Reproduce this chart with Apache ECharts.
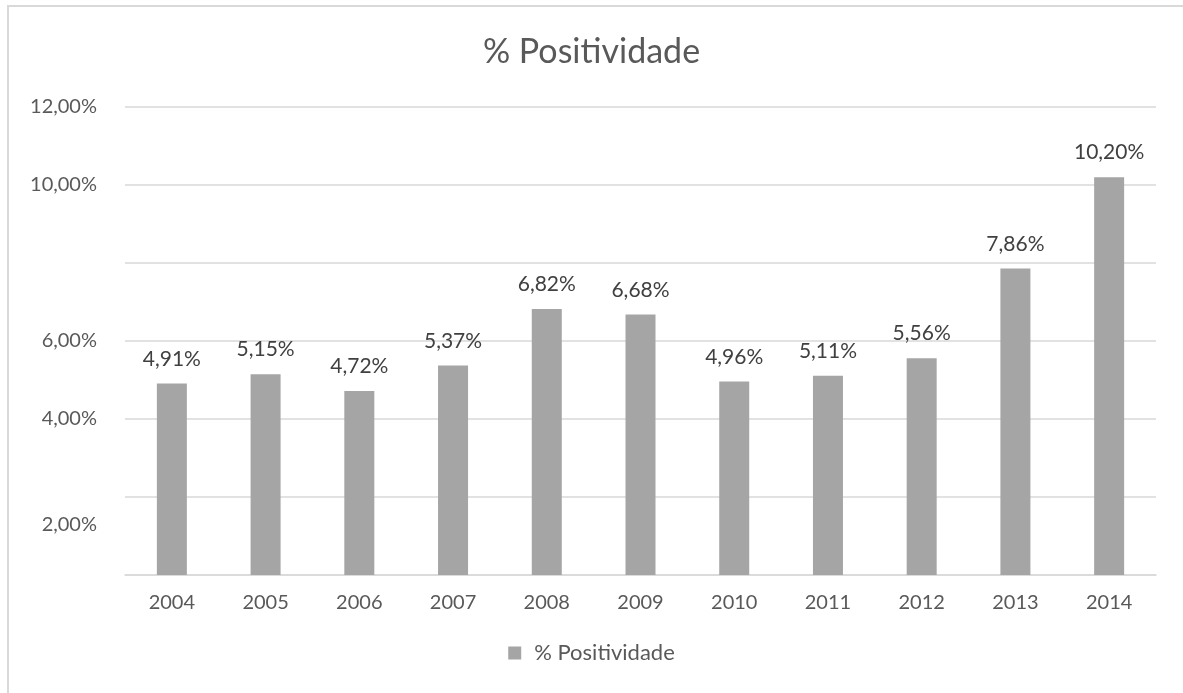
<!DOCTYPE html>
<html><head><meta charset="utf-8">
<script src="https://cdn.jsdelivr.net/npm/echarts@6/dist/echarts.min.js"></script>
<style>
html,body{margin:0;padding:0;background:#fff;}
#frame{position:absolute;left:7px;top:5px;width:1400px;height:900px;border-left:2px solid #d9d9d9;border-top:2px solid #d9d9d9;}
#chart{position:absolute;left:0;top:0;width:1183px;height:693px;}
</style></head>
<body>
<div id="frame"></div>
<div id="chart"></div>
<script>
const categories = ['2004','2005','2006','2007','2008','2009','2010','2011','2012','2013','2014'];
const positividade = [4.91, 5.15, 4.72, 5.37, 6.82, 6.68, 4.96, 5.11, 5.56, 7.86, 10.20];
const seriesName = '% Positividade';
const hiddenTicks = [0, 8];
const shiftedTicks = [2];

const fmt = v => v.toFixed(2).replace('.', ',') + '%';
const FONT = 'Lato';
const chart = echarts.init(document.getElementById('chart'));
chart.setOption({
  animation: false,
  backgroundColor: 'transparent',
  title: {
    text: seriesName, left: 'center', top: 30,
    textStyle: {fontFamily: FONT, fontSize: 34, fontWeight: 'normal', color: '#595959'}
  },
  legend: {
    bottom: 24, left: 'center', itemWidth: 13, itemHeight: 13, itemGap: 12,
    icon: 'rect',
    textStyle: {fontFamily: FONT, fontSize: 22, color: '#595959', padding: [0, 0, 0, 8]},
    data: [seriesName]
  },
  grid: {left: 125, right: 27, top: 107, bottom: 118, containLabel: false},
  xAxis: {
    type: 'category', data: categories,
    axisLine: {lineStyle: {color: '#d9d9d9', width: 1.5}},
    axisTick: {show: false},
    axisLabel: {fontFamily: FONT, fontSize: 20, color: '#595959', margin: 18}
  },
  yAxis: {
    type: 'value', min: 0, max: 12, interval: 2,
    axisLine: {show: false}, axisTick: {show: false},
    splitLine: {lineStyle: {color: '#d9d9d9', width: 1.5}},
    axisLabel: {
      fontFamily: FONT, fontSize: 20, color: '#595959', margin: 28,
      formatter: v => {
        if (hiddenTicks.includes(v)) return '';
        if (shiftedTicks.includes(v)) return '{low|' + fmt(v) + '}';
        return fmt(v);
      },
      rich: {low: {fontFamily: FONT, fontSize: 20, color: '#595959', padding: [56, 0, 0, 0]}}
    }
  },
  series: [{
    name: seriesName, type: 'bar', data: positividade, barWidth: 30,
    itemStyle: {color: '#a5a5a5'},
    label: {
      show: true, position: 'top', distance: 14,
      fontFamily: FONT, fontSize: 21, color: '#404040',
      formatter: p => fmt(p.value)
    }
  }]
});
</script>
</body></html>
